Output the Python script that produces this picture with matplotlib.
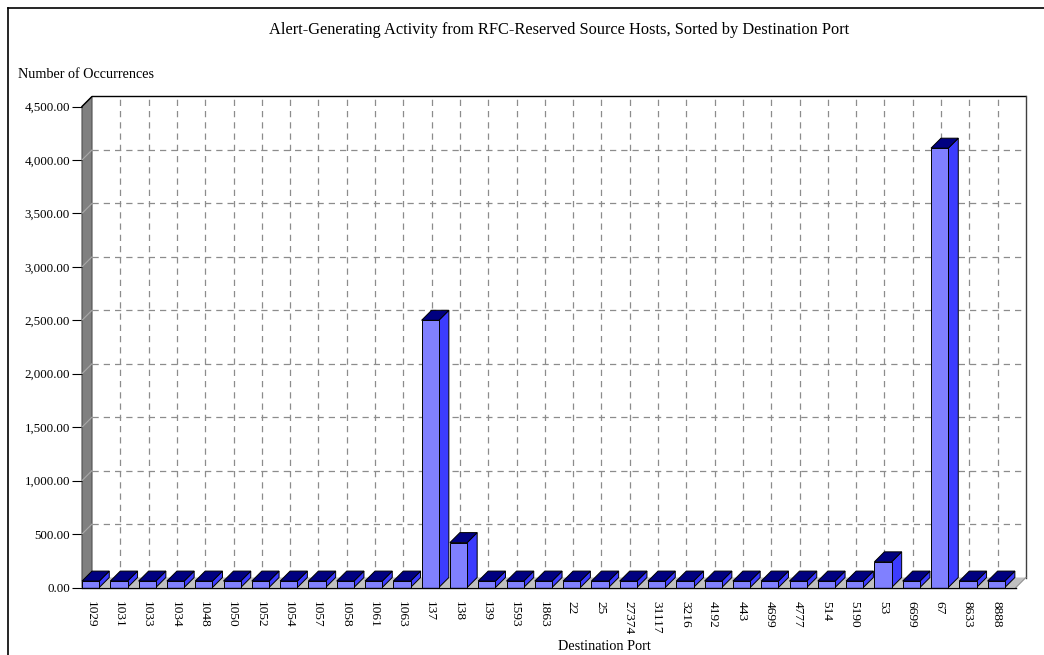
import matplotlib
matplotlib.use("Agg")
import matplotlib.pyplot as plt
from matplotlib.ticker import FuncFormatter
from matplotlib.lines import Line2D

# Destination ports and alert counts
ports = ["1029", "1031", "1033", "1034", "1048", "1050", "1052", "1054", "1057",
         "1058", "1061", "1063", "137", "138", "139", "1593", "1863", "22", "25",
         "27374", "31117", "3216", "4192", "443", "4699", "4777", "514", "5190",
         "53", "6699", "67", "8633", "8888"]
counts = [60, 60, 60, 60, 60, 60, 60, 60, 60,
          60, 60, 60, 2500, 420, 60, 60, 60, 60, 60,
          60, 60, 60, 60, 60, 60, 60, 60, 60,
          240, 60, 4110, 60, 60]
y_ticks = [0, 500, 1000, 1500, 2000, 2500, 3000, 3500, 4000, 4500]

W_PX, H_PX = 1044, 655
DPI = 100
fig = plt.figure(figsize=(W_PX / DPI, H_PX / DPI), dpi=DPI, facecolor="white")

serif = ["Liberation Serif", "DejaVu Serif"]
plt.rcParams["font.family"] = serif

# front plane of the plot, in pixels
left_px, right_px = 82, 82 + 33 * 28.3
top_px, zero_px = 106.5, 587.5
ax = fig.add_axes([left_px / W_PX, (H_PX - zero_px) / H_PX,
                   (right_px - left_px) / W_PX, (zero_px - top_px) / H_PX])
n = len(ports)
ymax = 4500
ax.set_xlim(0, n)
ax.set_ylim(0, ymax)
ax.patch.set_visible(False)
for s in ax.spines.values():
    s.set_visible(False)

# 3-D depth offset expressed in data units (10 px each way)
depth_px = 10
DX = depth_px * n / (right_px - left_px)
DY = depth_px * ymax / (zero_px - top_px)
bw = 0.61

kw = dict(clip_on=False)

# left wall
ax.fill([0, 0, DX, DX], [0, ymax, ymax + DY, DY], facecolor="#808080",
        edgecolor="#505050", lw=0.8, zorder=1, **kw)
# floor
ax.fill([0, n, n + DX, DX], [0, 0, DY, DY], facecolor="#C0C0C0",
        edgecolor="none", zorder=1, **kw)

# horizontal grid on back wall and its trace on the side wall
for t in y_ticks[1:-1]:
    ax.plot([DX, n + DX], [t + DY, t + DY], color="#8C8C8C", lw=0.9,
            ls=(0, (5, 4)), zorder=2, **kw)
    ax.plot([0, DX], [t, t + DY], color="#A8A8A8", lw=0.8, zorder=2, **kw)
# vertical grid on back wall
for k in range(1, n):
    ax.plot([k + DX, k + DX], [DY, ymax + DY], color="#8C8C8C", lw=0.9,
            ls=(0, (5, 4)), zorder=2, **kw)

# back wall frame
ax.plot([0, DX, n + DX], [ymax, ymax + DY, ymax + DY], color="black", lw=1.0, zorder=3, **kw)
ax.plot([n + DX, n + DX], [DY, ymax + DY], color="#404040", lw=1.0, zorder=3, **kw)
ax.plot([n, n + DX], [0, DY], color="#909090", lw=0.8, zorder=3, **kw)

# bars: front, side and top faces
for i, v in enumerate(counts):
    x0, x1 = i, i + bw
    ax.fill([x1, x1 + DX, x1 + DX, x1], [0, DY, v + DY, v],
            facecolor="#3C3CFF", edgecolor="black", lw=0.7, zorder=4, **kw)
    ax.fill([x0, x0 + DX, x1 + DX, x1], [v, v + DY, v + DY, v],
            facecolor="#000080", edgecolor="black", lw=0.7, zorder=4, **kw)
    ax.fill([x0, x1, x1, x0], [0, 0, v, v],
            facecolor="#8080FF", edgecolor="black", lw=0.7, zorder=5, **kw)

# front baseline
ax.plot([0, n], [0, 0], color="black", lw=1.0, zorder=6, **kw)

# y axis ticks
ax.set_yticks(y_ticks)
ax.yaxis.set_major_formatter(FuncFormatter(lambda v, p: f"{v:,.2f}"))
ax.tick_params(axis="y", direction="out", length=7.2, width=0.8, pad=1.5,
               labelsize=9.4, color="black")
# x axis labels, centred on the bar fronts
ax.set_xticks([i + bw / 2 for i in range(n)])
ax.set_xticklabels(ports, rotation=270, fontsize=9.6)
ax.tick_params(axis="x", length=0, pad=10)

fig.text(559 / W_PX, 1 - 30 / H_PX,
         "Alert-Generating Activity from RFC-Reserved Source Hosts, Sorted by Destination Port",
         ha="center", va="center", fontsize=11.8)
fig.text(18 / W_PX, 1 - 74 / H_PX, "Number of Occurrences",
         ha="left", va="center", fontsize=10.2)
fig.text(604 / W_PX, 1 - 646 / H_PX, "Destination Port",
         ha="center", va="center", fontsize=10.3)

# outer frame along the top and left edges
fig.add_artist(Line2D([8 / W_PX, 1], [1 - 8 / H_PX, 1 - 8 / H_PX],
                      transform=fig.transFigure, color="black", lw=1.2))
fig.add_artist(Line2D([8 / W_PX, 8 / W_PX], [0, 1 - 8 / H_PX],
                      transform=fig.transFigure, color="black", lw=1.2))

fig.savefig("out.png", dpi=DPI, facecolor="white")
